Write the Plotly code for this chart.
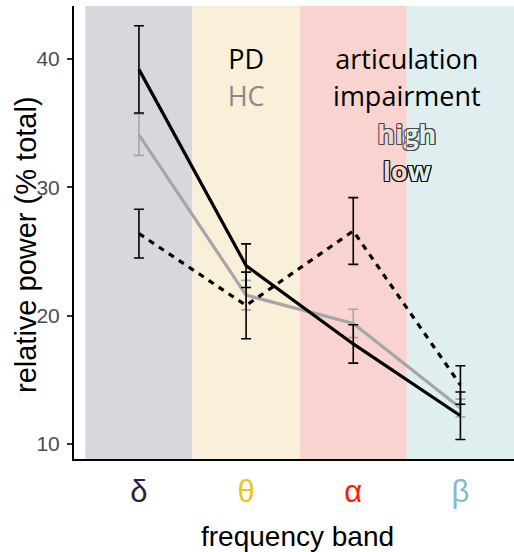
import plotly.graph_objects as go

# ---- data ----
bands = ["δ", "θ", "α", "β"]
band_pos = [1, 2, 3, 4]
hc_mean = [34.1, 21.6, 19.4, 12.8]
hc_err = [1.6, 1.15, 1.1, 0.7]
pd_high_mean = [26.4, 20.8, 26.6, 14.6]
pd_high_err = [1.9, 2.6, 2.6, 1.5]
pd_low_mean = [39.2, 23.9, 17.8, 12.2]
pd_low_err = [3.4, 1.7, 1.5, 1.85]
y_ticks = [10, 20, 30, 40]

# ---- styles ----
band_colors = ["#2e2244", "#ecc41f", "#ff1a00", "#7fbccc"]
panel_colors = ["#d8d7de", "#faf0d9", "#f9d3cf", "#dfeff0"]
gray = "#a6a6a6"
W, H = 514, 552
ML, MR, MT, MB = 74, 0, 6, 93
x_range = [0.394, 4.5]
y_range = [8.83, 44.14]
TXT_FONT = "Open Sans"

fig = go.Figure()

for i, c in enumerate(panel_colors):
    fig.add_shape(type="rect", xref="x", yref="paper", x0=band_pos[i] - 0.5, x1=band_pos[i] + 0.5,
                  y0=0, y1=1, fillcolor=c, line=dict(width=0), layer="below")

fig.add_trace(go.Scatter(
    x=band_pos, y=hc_mean, mode="lines", name="HC",
    line=dict(color=gray, width=3.2),
    error_y=dict(type="data", array=hc_err, color=gray, thickness=1.6, width=5),
))
fig.add_trace(go.Scatter(
    x=band_pos, y=pd_high_mean, mode="lines", name="PD high",
    line=dict(color="black", width=3.2, dash="6px,6px"),
    error_y=dict(type="data", array=pd_high_err, color="black", thickness=1.6, width=5),
))
fig.add_trace(go.Scatter(
    x=band_pos, y=pd_low_mean, mode="lines", name="PD low",
    line=dict(color="black", width=3.2),
    error_y=dict(type="data", array=pd_low_err, color="black", thickness=1.6, width=5),
))

def px_to_y(py):
    return y_range[0] + (H - MB - py) / (H - MT - MB) * (y_range[1] - y_range[0])

# legend-like labels
labels = [
    ("PD", 2.0, 62.5, "black"),
    ("HC", 2.0, 99.5, "#8a8a8a"),
    ("articulation", 3.5, 62.5, "black"),
    ("impairment", 3.5, 99.5, "black"),
]
for t, xx, py, col in labels:
    fig.add_trace(go.Scatter(x=[xx], y=[px_to_y(py)], mode="text", text=[t],
                             textposition="middle center", cliponaxis=False,
                             textfont=dict(family=TXT_FONT, size=27, color=col),
                             hoverinfo="skip"))

def outline(col, d=1):
    parts = []
    for dx, dy in [(d, 0), (-d, 0), (0, d), (0, -d), (d, d), (-d, -d), (d, -d), (-d, d)]:
        parts.append(f"{dx}px {dy}px 0 {col}")
    return ", ".join(parts)

outlined = [("high", 137.0, "#4a4a4a", 0.8), ("low", 174.5, "#111111", 1)]
for t, py, oc, dd in outlined:
    for xa, fillc in [("x", panel_colors[2]), ("x2", panel_colors[3])]:
        fig.add_trace(go.Scatter(x=[3.5], y=[px_to_y(py)], mode="text", text=[t],
                                 xaxis=xa, yaxis="y", cliponaxis=True,
                                 textposition="middle center",
                                 textfont=dict(family=TXT_FONT, size=27, color=fillc,
                                               weight=700, shadow=outline(oc, dd)),
                                 hoverinfo="skip"))

d2 = (3.5 - x_range[0]) / (x_range[1] - x_range[0])

fig.update_layout(
    width=W, height=H,
    margin=dict(l=ML, r=MR, t=MT, b=MB, pad=0),
    paper_bgcolor="white", plot_bgcolor="rgba(0,0,0,0)",
    showlegend=False,
    font=dict(family="Liberation Sans"),
    xaxis=dict(range=x_range, tickvals=band_pos,
               ticktext=[f'<span style="color:{c}">{b}</span>' for b, c in zip(bands, band_colors)],
               tickfont=dict(size=31, family="Liberation Sans"),
               showgrid=False, zeroline=False, showline=True, linecolor="black", linewidth=2,
               ticks="", ticklabelstandoff=4, automargin=False, fixedrange=True),
    xaxis2=dict(domain=[d2, 1], range=[3.5, 4.5], anchor="y", visible=False,
                showgrid=False, zeroline=False, fixedrange=True),
    yaxis=dict(range=y_range, tickvals=y_ticks, ticktext=[str(v) for v in y_ticks],
               tickfont=dict(size=21, color="#4d4d4d"),
               showgrid=False, zeroline=False, showline=True, linecolor="black", linewidth=2,
               ticks="outside", ticklen=5, tickwidth=1.5, tickcolor="#333333",
               ticklabelstandoff=3, automargin=False, fixedrange=True),
)

fig.add_annotation(text="relative power (% total)", textangle=-90, xref="paper", yref="paper",
                   x=(26 - ML) / (W - ML - MR), y=(H - MB - 245) / (H - MT - MB),
                   xanchor="center", yanchor="middle", showarrow=False,
                   font=dict(size=29, color="black", family="Liberation Sans"))
fig.add_annotation(text="frequency band", xref="paper", yref="paper",
                   x=(297.5 - ML) / (W - ML - MR), y=(H - MB - 536) / (H - MT - MB),
                   xanchor="center", yanchor="middle", showarrow=False,
                   font=dict(size=28, color="black", family="Liberation Sans"))

fig.write_html("out.html")
